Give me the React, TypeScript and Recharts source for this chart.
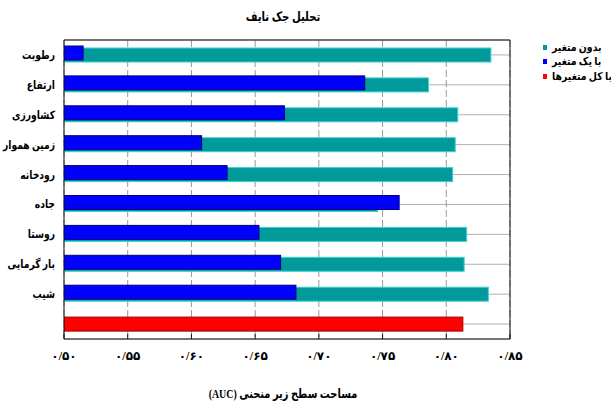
import React from 'react';
import { BarChart, Bar, XAxis, YAxis, CartesianGrid } from 'recharts';

const categories = ['رطوبت', 'ارتفاع', 'کشاورزی', 'زمین هموار', 'رودخانه', 'جاده', 'روستا', 'بار گرمایی', 'شیب', ''];
const withoutVariable = [0.835, 0.786, 0.809, 0.807, 0.805, 0.746, 0.816, 0.814, 0.833, null];
const onlyVariable = [0.515, 0.736, 0.673, 0.608, 0.628, 0.763, 0.653, 0.670, 0.682, null];
const allVariables = [null, null, null, null, null, null, null, null, null, 0.813];
const xTicks = [0.5, 0.55, 0.6, 0.65, 0.7, 0.75, 0.8, 0.85];
const xTickLabels = ['۰/۵۰', '۰/۵۵', '۰/۶۰', '۰/۶۵', '۰/۷۰', '۰/۷۵', '۰/۸۰', '۰/۸۵'];
const seriesNames = ['بدون متغیر', 'با یک متغیر', 'با کل متغیرها'];
const seriesColors = ['#009a9a', '#0000ff', '#ff0000'];
const seriesStrokes = ['#3fd0d0', '#00007a', '#a00000'];

const data = categories.map((name, i) => ({
  name,
  without: withoutVariable[i],
  only: onlyVariable[i],
  all: allVariables[i],
}));

const FONT = "'Liberation Serif', 'DejaVu Sans', serif";

const makeShape = (idx: number, dy: number) => (p: any) => {
  if (!p || !p.width || p.width <= 0) return <g />;
  return (
    <rect
      x={p.x}
      y={p.y + dy}
      width={p.width}
      height={p.height}
      fill={seriesColors[idx]}
      stroke={seriesStrokes[idx]}
      strokeWidth={1}
    />
  );
};

const YTick = (p: any) => (
  <text
    transform={`translate(${p.x},${p.y}) scale(0.8,1)`}
    x={0}
    y={0}
    dy={4}
    textAnchor="end"
    fill="#000"
    fontSize={11.5}
    fontWeight="bold"
    fontFamily={FONT}
  >
    {p.payload?.value}
  </text>
);

export default function App() {
  return (
    <div style={{ position: 'absolute', left: 0, top: 0, width: 611, height: 407, background: '#fff', fontFamily: FONT }}>
      <div
        dir="rtl"
        style={{ position: 'absolute', left: 0, width: 566, top: 9, textAlign: 'center', fontSize: 13, fontWeight: 'bold', fontFamily: FONT, transform: 'scaleX(0.78)', transformOrigin: '283px 0' }}
      >
        تحلیل جک نایف
      </div>
      <BarChart
        width={611}
        height={407}
        data={data}
        layout="vertical"
        margin={{ top: 40, right: 101, bottom: 38, left: 4 }}
        barSize={14}
        barGap={-14}
      >
        <CartesianGrid horizontal={true} vertical={false} stroke="#b0b0b0" />
        <CartesianGrid horizontal={false} vertical={true} stroke="#999" strokeDasharray="7 3" />
        <XAxis
          type="number"
          domain={[0.5, 0.85]}
          ticks={xTicks}
          allowDataOverflow
          height={30}
          tickSize={-5}
          tickMargin={17}
          axisLine={{ stroke: '#111' }}
          tickLine={{ stroke: '#111' }}
          tickFormatter={(v: number) => xTickLabels[xTicks.findIndex((t) => Math.abs(t - v) < 1e-6)] ?? ''}
          tick={{ fill: '#000', fontSize: 12, fontWeight: 'bold', fontFamily: FONT }}
        />
        <XAxis
          xAxisId="top"
          orientation="top"
          type="number"
          domain={[0.5, 0.85]}
          ticks={xTicks}
          allowDataOverflow
          mirror
          tick={false}
          tickSize={5}
          axisLine={{ stroke: '#111' }}
          tickLine={{ stroke: '#111' }}
        />
        <YAxis
          type="category"
          dataKey="name"
          width={60}
          tickLine={false}
          tickMargin={3}
          axisLine={{ stroke: '#111' }}
          tick={<YTick />}
        />
        <YAxis
          yAxisId="right"
          orientation="right"
          type="category"
          dataKey="name"
          mirror
          tick={false}
          tickSize={4}
          axisLine={{ stroke: '#111' }}
          tickLine={{ stroke: '#111' }}
        />
        <Bar dataKey="without" isAnimationActive={false} shape={makeShape(0, 0)} />
        <Bar dataKey="only" isAnimationActive={false} shape={makeShape(1, -2)} />
        <Bar dataKey="all" isAnimationActive={false} shape={makeShape(2, 0)} />
      </BarChart>
      <div style={{ position: 'absolute', left: 543, top: 40, fontFamily: FONT }}>
        {seriesNames.map((n, i) => (
          <div key={n} style={{ display: 'flex', alignItems: 'center', height: 14.5 }}>
            <div style={{ width: 4, height: 5, background: seriesColors[i], marginRight: 5 }} />
            <div dir="rtl" style={{ fontSize: 11, fontWeight: 'bold', whiteSpace: 'nowrap', transform: 'scaleX(0.85)', transformOrigin: '0 0' }}>{n}</div>
          </div>
        ))}
      </div>
      <div
        dir="rtl"
        style={{ position: 'absolute', left: 0, width: 566, top: 386, textAlign: 'center', fontSize: 13, fontWeight: 'bold', fontFamily: FONT, transform: 'scaleX(0.76)', transformOrigin: '283px 0' }}
      >
        مساحت سطح زیر منحنی (AUC)
      </div>
    </div>
  );
}
